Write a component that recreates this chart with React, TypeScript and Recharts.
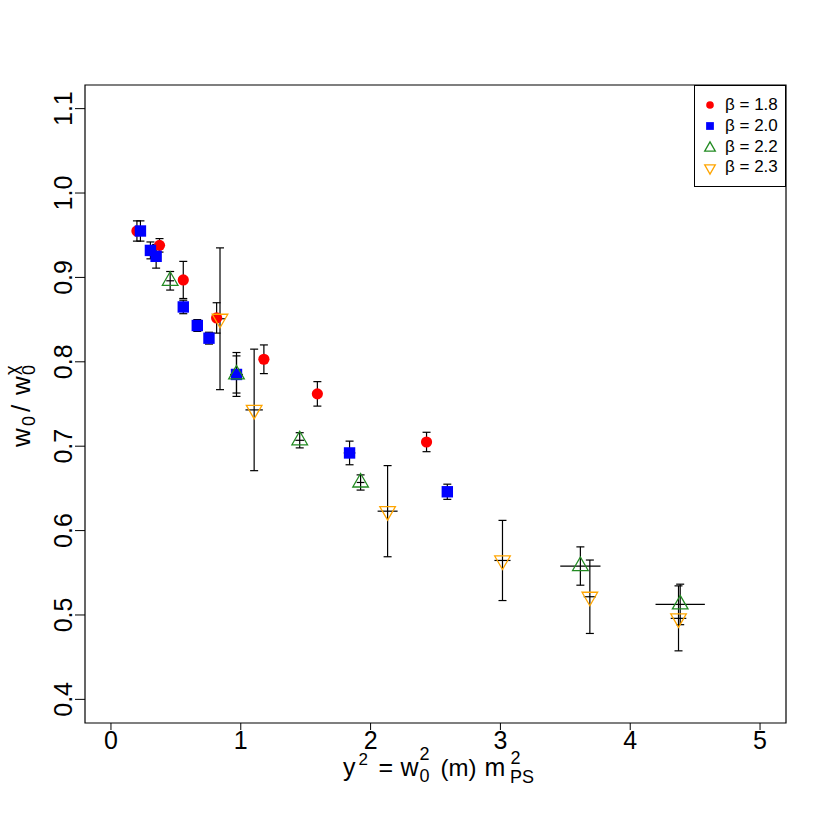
import {
  ScatterChart,
  Scatter,
  XAxis,
  YAxis,
  ErrorBar,
  ReferenceArea,
  Legend,
} from "recharts";

// values
const b18X = [0.2, 0.374, 0.557, 0.814, 1.178, 1.59, 2.431];
const b18Y = [0.955, 0.938, 0.897, 0.852, 0.803, 0.762, 0.705];
const b18Ey = [0.012, 0.008, 0.022, 0.018, 0.017, 0.0145, 0.0115];
const b18Ex = [0.03, 0.02, 0.03, 0.03, 0.023, 0.028, 0.036];

const b20X = [0.227, 0.304, 0.348, 0.557, 0.665, 0.755, 0.967, 1.838, 2.591];
const b20Y = [0.955, 0.932, 0.925, 0.865, 0.843, 0.828, 0.785, 0.692, 0.646];
const b20Ey = [0.012, 0.01, 0.014, 0.008, 0.007, 0.007, 0.026, 0.014, 0.009];
const b20Ex = [0.03, 0.02, 0.02, 0.025, 0.025, 0.025, 0.04, 0.045, 0.039];

const b22X = [0.456, 0.967, 1.454, 1.923, 3.616, 4.385];
const b22Y = [0.896, 0.785, 0.707, 0.657, 0.558, 0.5125];
const b22Ey = [0.011, 0.022, 0.009, 0.009, 0.0227, 0.024];
const b22Ex = [0.03, 0.05, 0.034, 0.03, 0.155, 0.19];

const b23X = [0.84, 1.103, 2.131, 3.016, 3.689, 4.372];
const b23Y = [0.851, 0.743, 0.623, 0.5646, 0.5216, 0.496];
const b23Ey = [0.084, 0.072, 0.054, 0.0475, 0.0435, 0.0385];
const b23Ex = [0.04, 0.067, 0.077, 0.062, 0.047, 0.06];

const xTicks = [0, 1, 2, 3, 4, 5];
const yTicks = [0.4, 0.5, 0.6, 0.7, 0.8, 0.9, 1.0, 1.1];
const xDomain = [-0.2, 5.2];
const yDomain = [0.372, 1.128];

const betaLabels = ["β = 1.8", "β = 2.0", "β = 2.2", "β = 2.3"];
const colors = ["#ff0000", "#0000ff", "#228b22", "#ffa500"];

const FONT = "'Liberation Sans', Arial, Helvetica, sans-serif";

const build = (xs: number[], ys: number[], ey: number[], ex: number[]) =>
  xs.map((x, i) => ({ x, y: ys[i], ey: ey[i], ex: ex[i] }));

const series = [
  build(b18X, b18Y, b18Ey, b18Ex),
  build(b20X, b20Y, b20Ey, b20Ex),
  build(b22X, b22Y, b22Ey, b22Ex),
  build(b23X, b23Y, b23Ey, b23Ex),
];

// R style point symbols: 19, 15, 2, 6
const drawSymbol = (kind: number, cx: number, cy: number, s: number) => {
  const c = colors[kind];
  if (kind === 0) return <circle cx={cx} cy={cy} r={5.6 * s} fill={c} />;
  if (kind === 1) {
    const h = 5.7 * s;
    return <rect x={cx - h} y={cy - h} width={2 * h} height={2 * h} fill={c} />;
  }
  const r = 9 * s;
  const xc = (r * Math.sqrt(3)) / 2;
  const dir = kind === 2 ? 1 : -1;
  const pts = [
    [cx, cy - dir * r],
    [cx + xc, cy + (dir * r) / 2],
    [cx - xc, cy + (dir * r) / 2],
  ]
    .map((p) => p.join(","))
    .join(" ");
  return <polygon points={pts} fill="none" stroke={c} strokeWidth={1.3} />;
};

const shapeFor = (kind: number) => (p: any) => drawSymbol(kind, p.cx, p.cy, 1);

const YTick = ({ x, y, payload }: any) => (
  <text
    transform={`translate(${x - 3},${y}) rotate(-90)`}
    textAnchor="middle"
    fontSize={25}
    fontFamily={FONT}
    fill="#000"
  >
    {payload.value.toFixed(1)}
  </text>
);

const XTick = ({ x, y, payload }: any) => (
  <text x={x} y={y + 19} textAnchor="middle" fontSize={25} fontFamily={FONT} fill="#000">
    {payload.value}
  </text>
);

// y^2 = w_0^2 (m) m_PS^2
const XTitle = ({ viewBox }: any) => {
  const c = viewBox.x + viewBox.width / 2;
  const base = 776;
  return (
    <g fontFamily={FONT} fill="#000">
      <text x={c - 92.5} y={base} fontSize={25}>y</text>
      <text x={c - 77} y={base - 11} fontSize={17}>2</text>
      <text x={c - 57} y={base} fontSize={25}>=</text>
      <text x={c - 35} y={base} fontSize={25}>w</text>
      <text x={c - 16} y={base - 16} fontSize={18}>2</text>
      <text x={c - 16} y={base + 6} fontSize={18}>0</text>
      <text x={c + 5} y={base} fontSize={24}>(m)</text>
      <text x={c + 49} y={base} fontSize={25}>m</text>
      <text x={c + 75} y={base - 12} fontSize={18}>2</text>
      <text x={c + 74.5} y={base + 7} fontSize={18}>PS</text>
    </g>
  );
};

// w_0 / w_0^chi
const YTitle = ({ viewBox }: any) => {
  const cy = viewBox.y + viewBox.height / 2 - 3;
  return (
    <g transform={`translate(30,${cy + 46}) rotate(-90)`} fontFamily={FONT} fill="#000">
      <text x={0} y={0} fontSize={26}>w</text>
      <text x={21} y={5} fontSize={18}>0</text>
      <text x={35} y={0} fontSize={26}>/</text>
      <text x={52} y={0} fontSize={26}>w</text>
      <text x={72} y={5} fontSize={18}>0</text>
      <text x={72} y={-12} fontSize={18}>χ</text>
    </g>
  );
};

const LegendBox = () => (
  <div
    style={{
      width: 92,
      height: 102,
      border: "1px solid #000",
      background: "#fff",
      boxSizing: "border-box",
      fontFamily: FONT,
      fontSize: 17,
      paddingTop: 9,
    }}
  >
    {betaLabels.map((label, i) => (
      <div key={label} style={{ display: "flex", alignItems: "center", height: 20.7 }}>
        <svg width={30} height={20} style={{ flexShrink: 0 }}>
          {drawSymbol(i, 15, i >= 2 ? 11 : 10, 0.68)}
        </svg>
        <span style={{ lineHeight: "20px" }}>{label}</span>
      </div>
    ))}
  </div>
);

export default function App() {
  return (
    <div style={{ position: "absolute", left: 0, top: 0, background: "#fff" }}>
      <ScatterChart
        width={830}
        height={830}
        margin={{ top: 85, right: 44, bottom: 57, left: 25 }}
      >
        <XAxis
          type="number"
          dataKey="x"
          domain={xDomain}
          ticks={xTicks}
          allowDataOverflow
          axisLine={false}
          tickLine={{ stroke: "#000", strokeWidth: 1 }}
          tickSize={7}
          tickMargin={0}
          height={50}
          tick={<XTick />}
          label={<XTitle />}
        />
        <YAxis
          type="number"
          dataKey="y"
          domain={yDomain}
          ticks={yTicks}
          allowDataOverflow
          axisLine={false}
          tickLine={{ stroke: "#000", strokeWidth: 1 }}
          tickSize={10}
          tickMargin={0}
          width={60}
          tick={<YTick />}
          label={<YTitle />}
        />
        <ReferenceArea
          x1={xDomain[0]}
          x2={xDomain[1]}
          y1={yDomain[0]}
          y2={yDomain[1]}
          fill="none"
          stroke="#000"
          strokeWidth={1.2}
          fillOpacity={0}
        />
        {series.map((d, i) => (
          <Scatter
            key={"pts" + i}
            data={d}
            shape={shapeFor(i)}
            isAnimationActive={false}
          />
        ))}
        {series.map((d, i) => (
          <Scatter
            key={"err" + i}
            data={d}
            shape={() => <g />}
            isAnimationActive={false}
          >
            <ErrorBar
              dataKey="ey"
              direction="y"
              width={4}
              stroke="#000"
              strokeWidth={1.2}
              isAnimationActive={false}
            />
            <ErrorBar
              dataKey="ex"
              direction="x"
              width={0}
              stroke="#000"
              strokeWidth={1.2}
              isAnimationActive={false}
            />
          </Scatter>
        ))}
        <Legend
          layout="vertical"
          align="center"
          verticalAlign="middle"
          content={<LegendBox />}
          wrapperStyle={{ position: "absolute", left: 694, top: 85, width: 92, height: 102 }}
        />
      </ScatterChart>
    </div>
  );
}
